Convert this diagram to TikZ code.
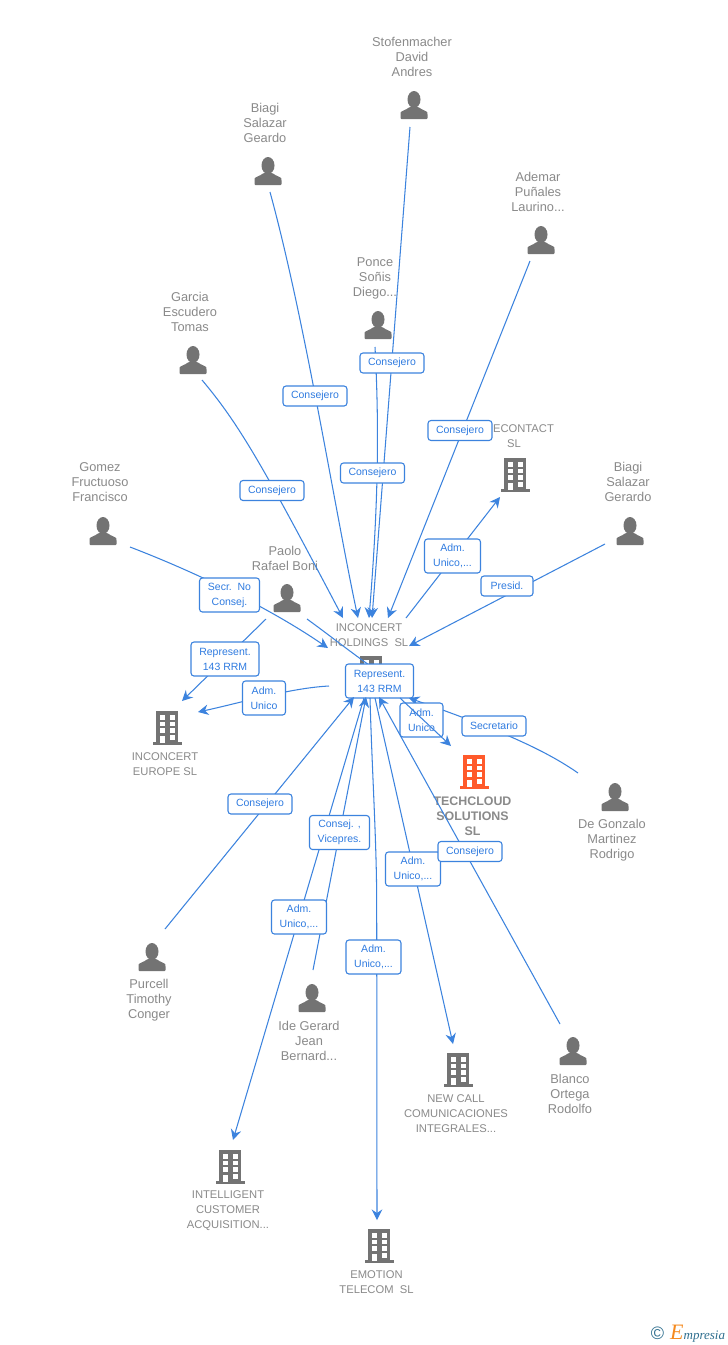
\documentclass[tikz,border=0pt]{standalone}
\usepackage{fontspec}
\setmainfont{Liberation Sans}
\newfontfamily\logofont{Liberation Serif}
\usetikzlibrary{arrows.meta}
\definecolor{edgeblue}{HTML}{3C83DE}
\definecolor{labeltext}{HTML}{2F7BE0}
\definecolor{namegray}{HTML}{8A8A8A}
\definecolor{icongray}{HTML}{737373}
\definecolor{iconorange}{HTML}{FF5A2B}
\definecolor{logoteal}{HTML}{2F6F8F}
\definecolor{logoorange}{HTML}{F58A1F}
\tikzset{
  edgeline/.style={draw=edgeblue,line width=1.05pt,-{Stealth[length=10.5pt,width=10.5pt,inset=3.5pt]}},
  plainline/.style={draw=edgeblue,line width=1.05pt},
  lbl/.style={draw=edgeblue,line width=1.1pt,rounded corners=3pt,fill=white,text=labeltext,
    font=\fontsize{10.5}{15}\selectfont,align=center,inner sep=0pt,minimum height=20pt,
    execute at begin node={\vspace*{2pt}}},
  namelbl/.style={text=namegray,font=\fontsize{12.8}{15}\selectfont,align=center,inner sep=0pt},
  orglbl/.style={text=namegray,font=\fontsize{11.2}{15}\selectfont,align=center,inner sep=0pt},
  person/.pic={
    \fill[icongray] (0,-5.5) ellipse (6.5 and 8.5);
    \fill[icongray,rounded corners=1pt] (-13.5,14) -- (-13.5,8.5) .. controls (-13,6) and (-8,5) .. (-4.5,2)
      -- (4.5,2) .. controls (8,5) and (13,6) .. (13.5,8.5) -- (13.5,14) -- cycle;
  },
  pics/building/.style={code={
    \fill[#1] (-14.5,14) rectangle (14.5,17);
    \fill[#1] (-11,-17) rectangle (11,14.5);
    \foreach \cx in {-5,5}\foreach \cy in {-10.5,-4,2.5}
      \fill[white] (\cx-2.5,\cy-2.3) rectangle (\cx+2.5,\cy+2.3);
    \fill[white] (2.5,7) rectangle (7.5,11.5);
    \fill[white] (-7.5,7.5) rectangle (-2.5,14.5);
  }},
}
\begin{document}
\begin{tikzpicture}[x=1pt,y=-1pt]
\useasboundingbox[fill=white] (0,0) rectangle (728,1345);

% people
\pic at (414,105) {person}; \node[namelbl] (stof) at (412,57) {Stofenmacher\\David\\Andres};
\pic at (268,171) {person}; \node[namelbl] (geardo) at (265,123) {Biagi\\Salazar\\Geardo};
\pic at (541,240) {person}; \node[namelbl] (ademar) at (538,192) {Ademar\\Puñales\\Laurino...};
\pic at (378,325) {person}; \node[namelbl] (ponce) at (375,278) {Ponce\\Soñis\\Diego...};
\pic at (193,360) {person}; \node[namelbl] (garcia) at (190,312) {Garcia\\Escudero\\Tomas};
\pic at (103,531) {person}; \node[namelbl] (gomez) at (100,482) {Gomez\\Fructuoso\\Francisco};
\pic at (630,531) {person}; \node[namelbl] (gerardo) at (628,482) {Biagi\\Salazar\\Gerardo};
\pic at (287,598) {person}; \node[namelbl] (paolo) at (285,558.5) {Paolo\\Rafael Boni};
\pic at (615,797) {person}; \node[namelbl] (gonzalo) at (612,840) {De Gonzalo\\Martinez\\Rodrigo};
\pic at (152,957) {person}; \node[namelbl] (purcell) at (149,1000) {Purcell\\Timothy\\Conger};
\pic at (312,998) {person}; \node[namelbl] (ide) at (309,1041) {Ide Gerard\\Jean\\Bernard...};
\pic at (573,1051) {person}; \node[namelbl] (blanco) at (570,1094) {Blanco\\Ortega\\Rodolfo};

% companies
\pic at (515,475) {building=icongray};
\node[orglbl] (econtact) at (514,436.5) {\hspace*{19pt}ECONTACT\\SL};
\pic at (167,728) {building=icongray};
\node[orglbl] (europe) at (165,764.5) {INCONCERT\\EUROPE SL};
\pic at (371,673) {building=icongray};
\node[orglbl] (holdings) at (369,635.5) {INCONCERT\\HOLDINGS\ \ SL};
\pic at (474,772) {building=iconorange};
\node[text=namegray,font=\bfseries\fontsize{12.4}{15}\selectfont,align=center,inner sep=0pt] (techcloud) at (472.5,816) {TECHCLOUD\\SOLUTIONS\\SL};
\pic at (458,1070) {building=icongray};
\node[orglbl] (newcall) at (456,1114) {NEW CALL\\COMUNICACIONES\\INTEGRALES...};
\pic at (230,1167) {building=icongray};
\node[orglbl] (intelligent) at (228,1211) {INTELLIGENT\\CUSTOMER\\ACQUISITION...};
\pic at (379,1246) {building=icongray};
\node[orglbl] (emotion) at (376.5,1282.5) {EMOTION\\TELECOM\ \ SL};

% connector ends
\coordinate (stofOut) at (410,127);
\coordinate (geardoOut) at (270,192);
\coordinate (ademarOut) at (530,261);
\coordinate (ponceOut) at (375,347);
\coordinate (garciaOut) at (202,380);
\coordinate (gomezOut) at (130,547);
\coordinate (gerardoOut) at (605,544);
\coordinate (paoloOutA) at (266,619);
\coordinate (paoloOutB) at (307,619);
\coordinate (gonzaloOut) at (578,773);
\coordinate (purcellOut) at (165,929);
\coordinate (ideOut) at (313,970);
\coordinate (blancoOut) at (560,1024);
\coordinate (holdN1) at (343,618);
\coordinate (holdN2) at (358,618);
\coordinate (holdN3) at (369,618);
\coordinate (holdN4) at (372,618);
\coordinate (holdN5) at (388,618);
\coordinate (holdNE) at (406,618);
\coordinate (holdW) at (328,648);
\coordinate (holdE) at (409,646);
\coordinate (holdL) at (329,686);
\coordinate (holdP) at (369,665);
\coordinate (holdS1) at (354,697);
\coordinate (holdS2) at (366,697);
\coordinate (holdS3) at (379,697);
\coordinate (holdS4) at (409,698);
\coordinate (holdO1) at (364,698);
\coordinate (holdO2) at (370,698);
\coordinate (holdO3) at (375,698);
\coordinate (holdO4) at (400,698);
\coordinate (econtactIn) at (500,497);
\coordinate (europeInA) at (182,701);
\coordinate (europeInB) at (198,712);
\coordinate (techIn) at (451,746);
\coordinate (newcallIn) at (453,1044);
\coordinate (intelIn) at (233,1140);
\coordinate (emotionIn) at (377,1220);

% connectors passing behind the central label
\draw[plainline] (paoloOutB) .. controls (325,632) and (348,650) .. (holdP);

% central label
\node[lbl,minimum width=68pt,minimum height=34pt] (repC) at (379.5,681) {Represent.\\143 RRM};

% connectors
\draw[edgeline] (stofOut) -- (holdN4);
\draw[edgeline] (geardoOut) .. controls (305,320) and (335,510) .. (holdN2);
\draw[edgeline] (ademarOut) -- (holdN5);
\draw[edgeline] (ponceOut) .. controls (380,440) and (377,520) .. (holdN3);
\draw[edgeline] (garciaOut) .. controls (240,425) and (265,470) .. (holdN1);
\draw[edgeline] (gomezOut) .. controls (190,570) and (265,605) .. (holdW);
\draw[edgeline] (gerardoOut) -- (holdE);
\draw[edgeline] (holdNE) -- (econtactIn);
\draw[edgeline] (paoloOutA) -- (europeInA);
\draw[edgeline] (holdL) .. controls (290,688) and (240,703) .. (europeInB);
\draw[edgeline] (purcellOut) -- (holdS1);
\draw[edgeline] (ideOut) -- (holdS2);
\draw[edgeline] (blancoOut) -- (holdS3);
\draw[edgeline] (gonzaloOut) .. controls (545,750) and (500,730) .. (holdS4);
\draw[edgeline] (holdO1) -- (intelIn);
\draw[edgeline] (holdO2) .. controls (372,770) and (376.5,840) .. (376.7,900) -- (emotionIn);
\draw[edgeline] (holdO3) -- (newcallIn);

% edge labels
\node[lbl,minimum width=64pt] (l1) at (392,363) {Consejero};
\node[lbl,minimum width=64pt] (l2) at (315,396) {Consejero};
\node[lbl,minimum width=64pt] (l3) at (372.5,473) {Consejero};
\node[lbl,minimum width=64pt] (l4) at (460,430.5) {Consejero};
\node[lbl,minimum width=64pt] (l5) at (272,490.5) {Consejero};
\node[lbl,minimum width=60pt,minimum height=34pt] (l6) at (229.5,595) {Secr.\ \ No\\Consej.};
\node[lbl,minimum width=56pt,minimum height=34pt] (l7) at (452.5,556) {Adm.\\Unico,...};
\node[lbl,minimum width=52pt] (l8) at (507,586) {Presid.};
\node[lbl,minimum width=68pt,minimum height=34pt] (l9) at (225,659) {Represent.\\143 RRM};
\node[lbl,minimum width=43pt,minimum height=34pt] (l10) at (264,698) {Adm.\\Unico};
\node[lbl,minimum width=43pt,minimum height=34pt] (l11) at (421.5,720) {Adm.\\Unico};
\node[lbl,minimum width=64pt] (l12) at (494,726) {Secretario};
\node[lbl,minimum width=64pt] (l13) at (260,804) {Consejero};
\node[lbl,minimum width=60pt,minimum height=34pt] (l14) at (339.5,832.5) {Consej. ,\\Vicepres.};
\node[lbl,minimum width=55pt,minimum height=34pt] (l15) at (413,869) {Adm.\\Unico,...};
\node[lbl,minimum width=64pt] (l16) at (470,851.5) {Consejero};
\node[lbl,minimum width=55pt,minimum height=34pt] (l17) at (299,917) {Adm.\\Unico,...};
\node[lbl,minimum width=55pt,minimum height=34pt] (l18) at (373.5,957) {Adm.\\Unico,...};

% connector drawn over its own label
\draw[edgeline] (holdO4) -- (techIn);

% logo
\node[text=logoteal,font=\fontsize{18}{18}\selectfont,inner sep=0pt] (logoC) at (657.5,1333.5) {©};
\node[anchor=base west,inner sep=0pt] (logoT) at (670,1339) {\logofont\itshape{\color{logoorange}\fontsize{22}{22}\selectfont E}{\color{logoteal}\fontsize{13}{13}\selectfont mpresia}};
\end{tikzpicture}
\end{document}
